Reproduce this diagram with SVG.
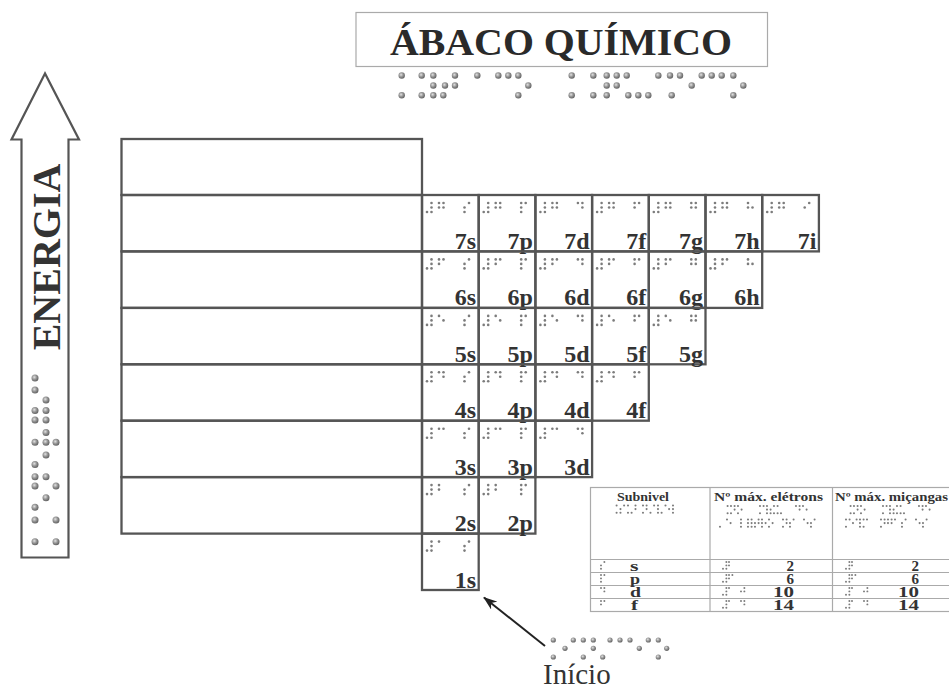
<svg xmlns="http://www.w3.org/2000/svg" xmlns:xlink="http://www.w3.org/1999/xlink" width="949" height="689" viewBox="0 0 949 689">
<style>
.ln{fill:none;stroke:#555;stroke-width:2.3}
.tb{fill:none;stroke:#aaa;stroke-width:1.2}
.lbl{font-family:"Liberation Serif",serif;font-weight:bold;font-size:24px;fill:#333;text-anchor:end}
.th{font-family:"Liberation Serif",serif;font-weight:bold;font-size:13px;fill:#333}
.tr{font-family:"Liberation Serif",serif;font-weight:bold;font-size:15px;fill:#333}
.sd{fill:#7c7c7c}
.bd{fill:url(#dot)}
</style>
<defs>
<radialGradient id="dot" cx="40%" cy="38%" r="65%">
<stop offset="0" stop-color="#e2e2e2"/>
<stop offset="0.5" stop-color="#959595"/>
<stop offset="1" stop-color="#5e5e5e"/>
</radialGradient>
<marker id="ah" markerUnits="userSpaceOnUse" markerWidth="14" markerHeight="10" viewBox="0 0 14 10" refX="13" refY="5" orient="auto">
<path d="M0,0 L14,5 L0,10 L4,5 z" fill="#222"/>
</marker>
<g id="bn"><circle class="sd" cx="0" cy="9" r="1.3"/><circle class="sd" cx="4.5" cy="0" r="1.3"/><circle class="sd" cx="4.5" cy="4.5" r="1.3"/><circle class="sd" cx="4.5" cy="9" r="1.3"/></g>
<g id="ba"><circle class="sd" cx="0" cy="0" r="1.3"/></g>
<g id="bb"><circle class="sd" cx="0" cy="0" r="1.3"/><circle class="sd" cx="0" cy="4.5" r="1.3"/></g>
<g id="bc"><circle class="sd" cx="0" cy="0" r="1.3"/><circle class="sd" cx="4.5" cy="0" r="1.3"/></g>
<g id="bd"><circle class="sd" cx="0" cy="0" r="1.3"/><circle class="sd" cx="4.5" cy="0" r="1.3"/><circle class="sd" cx="4.5" cy="4.5" r="1.3"/></g>
<g id="be"><circle class="sd" cx="0" cy="0" r="1.3"/><circle class="sd" cx="4.5" cy="4.5" r="1.3"/></g>
<g id="bf"><circle class="sd" cx="0" cy="0" r="1.3"/><circle class="sd" cx="0" cy="4.5" r="1.3"/><circle class="sd" cx="4.5" cy="0" r="1.3"/></g>
<g id="bg"><circle class="sd" cx="0" cy="0" r="1.3"/><circle class="sd" cx="0" cy="4.5" r="1.3"/><circle class="sd" cx="4.5" cy="0" r="1.3"/><circle class="sd" cx="4.5" cy="4.5" r="1.3"/></g>
<g id="bh"><circle class="sd" cx="0" cy="0" r="1.3"/><circle class="sd" cx="0" cy="4.5" r="1.3"/><circle class="sd" cx="4.5" cy="4.5" r="1.3"/></g>
<g id="bi"><circle class="sd" cx="0" cy="4.5" r="1.3"/><circle class="sd" cx="4.5" cy="0" r="1.3"/></g>
<g id="bj"><circle class="sd" cx="0" cy="4.5" r="1.3"/><circle class="sd" cx="4.5" cy="0" r="1.3"/><circle class="sd" cx="4.5" cy="4.5" r="1.3"/></g>
<g id="bs"><circle class="sd" cx="0" cy="4.5" r="1.3"/><circle class="sd" cx="0" cy="9" r="1.3"/><circle class="sd" cx="4.5" cy="0" r="1.3"/></g>
<g id="bp"><circle class="sd" cx="0" cy="0" r="1.3"/><circle class="sd" cx="0" cy="4.5" r="1.3"/><circle class="sd" cx="0" cy="9" r="1.3"/><circle class="sd" cx="4.5" cy="0" r="1.3"/></g>
<g id="bcap"><circle class="sd" cx="4.5" cy="0" r="1.3"/><circle class="sd" cx="4.5" cy="9" r="1.3"/></g>
<g id="bu"><circle class="sd" cx="0" cy="0" r="1.3"/><circle class="sd" cx="0" cy="9" r="1.3"/><circle class="sd" cx="4.5" cy="9" r="1.3"/></g>
<g id="bnn"><circle class="sd" cx="0" cy="0" r="1.3"/><circle class="sd" cx="0" cy="9" r="1.3"/><circle class="sd" cx="4.5" cy="0" r="1.3"/><circle class="sd" cx="4.5" cy="4.5" r="1.3"/></g>
<g id="bia"><circle class="sd" cx="0" cy="9" r="1.3"/><circle class="sd" cx="4.5" cy="0" r="1.3"/></g>
<g id="bv"><circle class="sd" cx="0" cy="0" r="1.3"/><circle class="sd" cx="0" cy="4.5" r="1.3"/><circle class="sd" cx="0" cy="9" r="1.3"/><circle class="sd" cx="4.5" cy="9" r="1.3"/></g>
<g id="bl"><circle class="sd" cx="0" cy="0" r="1.3"/><circle class="sd" cx="0" cy="4.5" r="1.3"/><circle class="sd" cx="0" cy="9" r="1.3"/></g>
<g id="bo"><circle class="sd" cx="0" cy="0" r="1.3"/><circle class="sd" cx="0" cy="9" r="1.3"/><circle class="sd" cx="4.5" cy="4.5" r="1.3"/></g>
<g id="bm"><circle class="sd" cx="0" cy="0" r="1.3"/><circle class="sd" cx="0" cy="9" r="1.3"/><circle class="sd" cx="4.5" cy="0" r="1.3"/></g>
<g id="baa"><circle class="sd" cx="0" cy="0" r="1.3"/><circle class="sd" cx="0" cy="4.5" r="1.3"/><circle class="sd" cx="0" cy="9" r="1.3"/><circle class="sd" cx="4.5" cy="4.5" r="1.3"/><circle class="sd" cx="4.5" cy="9" r="1.3"/></g>
<g id="bx"><circle class="sd" cx="0" cy="0" r="1.3"/><circle class="sd" cx="0" cy="9" r="1.3"/><circle class="sd" cx="4.5" cy="0" r="1.3"/><circle class="sd" cx="4.5" cy="9" r="1.3"/></g>
<g id="bpt"><circle class="sd" cx="0" cy="9" r="1.3"/></g>
<g id="bee"><circle class="sd" cx="0" cy="0" r="1.3"/><circle class="sd" cx="0" cy="4.5" r="1.3"/><circle class="sd" cx="0" cy="9" r="1.3"/><circle class="sd" cx="4.5" cy="0" r="1.3"/><circle class="sd" cx="4.5" cy="4.5" r="1.3"/><circle class="sd" cx="4.5" cy="9" r="1.3"/></g>
<g id="bt"><circle class="sd" cx="0" cy="4.5" r="1.3"/><circle class="sd" cx="0" cy="9" r="1.3"/><circle class="sd" cx="4.5" cy="0" r="1.3"/><circle class="sd" cx="4.5" cy="4.5" r="1.3"/></g>
<g id="br"><circle class="sd" cx="0" cy="0" r="1.3"/><circle class="sd" cx="0" cy="4.5" r="1.3"/><circle class="sd" cx="0" cy="9" r="1.3"/><circle class="sd" cx="4.5" cy="4.5" r="1.3"/></g>
<g id="bcc"><circle class="sd" cx="0" cy="0" r="1.3"/><circle class="sd" cx="0" cy="4.5" r="1.3"/><circle class="sd" cx="0" cy="9" r="1.3"/><circle class="sd" cx="4.5" cy="0" r="1.3"/><circle class="sd" cx="4.5" cy="9" r="1.3"/></g>
</defs>
<rect width="949" height="689" fill="#fff"/>

<g id="title">
<rect x="356" y="12.5" width="411.5" height="54" class="tb"/>
<text x="390" y="55" font-family="'Liberation Serif',serif" font-weight="bold" font-size="38" fill="#2a2a2a" textLength="342" lengthAdjust="spacingAndGlyphs">ÁBACO QUÍMICO</text>
<g id="title-braille">
<circle class="bd" cx="401.7" cy="75.5" r="3.2"/><circle class="bd" cx="421.7" cy="75.5" r="3.2"/><circle class="bd" cx="433.3" cy="75.5" r="3.2"/><circle class="bd" cx="455" cy="75.5" r="3.2"/><circle class="bd" cx="477.3" cy="75.5" r="3.2"/><circle class="bd" cx="498.3" cy="75.5" r="3.2"/><circle class="bd" cx="508.3" cy="75.5" r="3.2"/><circle class="bd" cx="518.3" cy="75.5" r="3.2"/><circle class="bd" cx="571.7" cy="75.5" r="3.2"/><circle class="bd" cx="593.3" cy="75.5" r="3.2"/><circle class="bd" cx="606.7" cy="75.5" r="3.2"/><circle class="bd" cx="616.7" cy="75.5" r="3.2"/><circle class="bd" cx="626.7" cy="75.5" r="3.2"/><circle class="bd" cx="658.3" cy="75.5" r="3.2"/><circle class="bd" cx="670" cy="75.5" r="3.2"/><circle class="bd" cx="680" cy="75.5" r="3.2"/><circle class="bd" cx="701.7" cy="75.5" r="3.2"/><circle class="bd" cx="711.7" cy="75.5" r="3.2"/><circle class="bd" cx="721.7" cy="75.5" r="3.2"/><circle class="bd" cx="733.3" cy="75.5" r="3.2"/>
<circle class="bd" cx="433.3" cy="85.5" r="3.2"/><circle class="bd" cx="445" cy="85.5" r="3.2"/><circle class="bd" cx="455" cy="85.5" r="3.2"/><circle class="bd" cx="528.3" cy="85.5" r="3.2"/><circle class="bd" cx="606.7" cy="85.5" r="3.2"/><circle class="bd" cx="616.7" cy="85.5" r="3.2"/><circle class="bd" cx="691.7" cy="85.5" r="3.2"/><circle class="bd" cx="743.3" cy="85.5" r="3.2"/>
<circle class="bd" cx="401.7" cy="95.3" r="3.2"/><circle class="bd" cx="421.7" cy="95.3" r="3.2"/><circle class="bd" cx="433.3" cy="95.3" r="3.2"/><circle class="bd" cx="443.3" cy="95.3" r="3.2"/><circle class="bd" cx="518.3" cy="95.3" r="3.2"/><circle class="bd" cx="571.7" cy="95.3" r="3.2"/><circle class="bd" cx="593.3" cy="95.3" r="3.2"/><circle class="bd" cx="606.7" cy="95.3" r="3.2"/><circle class="bd" cx="628.3" cy="95.3" r="3.2"/><circle class="bd" cx="638.3" cy="95.3" r="3.2"/><circle class="bd" cx="648.3" cy="95.3" r="3.2"/><circle class="bd" cx="671.7" cy="95.3" r="3.2"/><circle class="bd" cx="733.3" cy="95.3" r="3.2"/>
</g>
</g>

<g id="energia">
<path d="M45,73.5 L11.5,139.5 L21.5,139.5 L21.5,557.5 L68.5,557.5 L68.5,139.5 L79,139.5 Z" fill="none" stroke="#555" stroke-width="2.2"/>
<text transform="translate(60,257) rotate(-90)" text-anchor="middle" font-family="'Liberation Serif',serif" font-weight="bold" font-size="40" fill="#333">ENERGIA</text>
<g id="energia-braille">
<circle class="bd" cx="35" cy="378" r="3.5"/><circle class="bd" cx="35" cy="390" r="3.5"/><circle class="bd" cx="46" cy="400" r="3.5"/><circle class="bd" cx="35" cy="410.5" r="3.5"/><circle class="bd" cx="46" cy="410.5" r="3.5"/><circle class="bd" cx="35" cy="420" r="3.5"/><circle class="bd" cx="46" cy="420" r="3.5"/><circle class="bd" cx="46" cy="432.5" r="3.5"/><circle class="bd" cx="35" cy="442.3" r="3.5"/><circle class="bd" cx="46" cy="442.3" r="3.5"/><circle class="bd" cx="56" cy="442.3" r="3.5"/><circle class="bd" cx="46" cy="455" r="3.5"/><circle class="bd" cx="35" cy="464.5" r="3.5"/><circle class="bd" cx="35" cy="476.7" r="3.5"/><circle class="bd" cx="46" cy="476.7" r="3.5"/><circle class="bd" cx="35" cy="486" r="3.5"/><circle class="bd" cx="56" cy="486" r="3.5"/><circle class="bd" cx="46" cy="497.7" r="3.5"/><circle class="bd" cx="35" cy="507.3" r="3.5"/><circle class="bd" cx="35" cy="520" r="3.5"/><circle class="bd" cx="56" cy="520" r="3.5"/><circle class="bd" cx="35" cy="541.7" r="3.5"/><circle class="bd" cx="56" cy="541.7" r="3.5"/>
</g>
</g>

<g id="left-rows">
<rect x="121.5" y="139" width="300.5" height="56" class="ln"/>
<rect x="121.5" y="195" width="300.5" height="56.4" class="ln"/>
<rect x="121.5" y="251.4" width="300.5" height="56.5" class="ln"/>
<rect x="121.5" y="307.9" width="300.5" height="56.4" class="ln"/>
<rect x="121.5" y="364.3" width="300.5" height="56.4" class="ln"/>
<rect x="121.5" y="420.7" width="300.5" height="56.4" class="ln"/>
<rect x="121.5" y="477.1" width="300.5" height="56.5" class="ln"/>
</g>

<!-- row 7 -->
<g id="c7s"><rect x="422" y="195" width="56.7" height="56.4" class="ln"/><use href="#bn" x="427" y="203"/><use href="#bg" x="439" y="203"/><use href="#bs" x="464.5" y="203"/><text class="lbl" x="476.2" y="248.9">7s</text></g>
<g id="c7p"><rect x="478.7" y="195" width="56.7" height="56.4" class="ln"/><use href="#bn" x="483.7" y="203"/><use href="#bg" x="495.7" y="203"/><use href="#bp" x="521.2" y="203"/><text class="lbl" x="532.9" y="248.9">7p</text></g>
<g id="c7d"><rect x="535.4" y="195" width="56.7" height="56.4" class="ln"/><use href="#bn" x="540.4" y="203"/><use href="#bg" x="552.4" y="203"/><use href="#bd" x="577.9" y="203"/><text class="lbl" x="589.6" y="248.9">7d</text></g>
<g id="c7f"><rect x="592.1" y="195" width="56.7" height="56.4" class="ln"/><use href="#bn" x="597.1" y="203"/><use href="#bg" x="609.1" y="203"/><use href="#bf" x="634.6" y="203"/><text class="lbl" x="646.3" y="248.9">7f</text></g>
<g id="c7g"><rect x="648.8" y="195" width="56.7" height="56.4" class="ln"/><use href="#bn" x="653.8" y="203"/><use href="#bg" x="665.8" y="203"/><use href="#bg" x="691.3" y="203"/><text class="lbl" x="703" y="248.9">7g</text></g>
<g id="c7h"><rect x="705.5" y="195" width="56.7" height="56.4" class="ln"/><use href="#bn" x="710.5" y="203"/><use href="#bg" x="722.5" y="203"/><use href="#bh" x="748" y="203"/><text class="lbl" x="759.7" y="248.9">7h</text></g>
<g id="c7i"><rect x="762.2" y="195" width="56.7" height="56.4" class="ln"/><use href="#bn" x="767.2" y="203"/><use href="#bg" x="779.2" y="203"/><use href="#bi" x="804.7" y="203"/><text class="lbl" x="816.4" y="248.9">7i</text></g>
<!-- row 6 -->
<g id="c6s"><rect x="422" y="251.4" width="56.7" height="56.5" class="ln"/><use href="#bn" x="427" y="259.4"/><use href="#bf" x="439" y="259.4"/><use href="#bs" x="464.5" y="259.4"/><text class="lbl" x="476.2" y="305.3">6s</text></g>
<g id="c6p"><rect x="478.7" y="251.4" width="56.7" height="56.5" class="ln"/><use href="#bn" x="483.7" y="259.4"/><use href="#bf" x="495.7" y="259.4"/><use href="#bp" x="521.2" y="259.4"/><text class="lbl" x="532.9" y="305.3">6p</text></g>
<g id="c6d"><rect x="535.4" y="251.4" width="56.7" height="56.5" class="ln"/><use href="#bn" x="540.4" y="259.4"/><use href="#bf" x="552.4" y="259.4"/><use href="#bd" x="577.9" y="259.4"/><text class="lbl" x="589.6" y="305.3">6d</text></g>
<g id="c6f"><rect x="592.1" y="251.4" width="56.7" height="56.5" class="ln"/><use href="#bn" x="597.1" y="259.4"/><use href="#bf" x="609.1" y="259.4"/><use href="#bf" x="634.6" y="259.4"/><text class="lbl" x="646.3" y="305.3">6f</text></g>
<g id="c6g"><rect x="648.8" y="251.4" width="56.7" height="56.5" class="ln"/><use href="#bn" x="653.8" y="259.4"/><use href="#bf" x="665.8" y="259.4"/><use href="#bg" x="691.3" y="259.4"/><text class="lbl" x="703" y="305.3">6g</text></g>
<g id="c6h"><rect x="705.5" y="251.4" width="56.7" height="56.5" class="ln"/><use href="#bn" x="710.5" y="259.4"/><use href="#bf" x="722.5" y="259.4"/><use href="#bh" x="748" y="259.4"/><text class="lbl" x="759.7" y="305.3">6h</text></g>
<!-- row 5 -->
<g id="c5s"><rect x="422" y="307.9" width="56.7" height="56.4" class="ln"/><use href="#bn" x="427" y="315.9"/><use href="#be" x="439" y="315.9"/><use href="#bs" x="464.5" y="315.9"/><text class="lbl" x="476.2" y="361.8">5s</text></g>
<g id="c5p"><rect x="478.7" y="307.9" width="56.7" height="56.4" class="ln"/><use href="#bn" x="483.7" y="315.9"/><use href="#be" x="495.7" y="315.9"/><use href="#bp" x="521.2" y="315.9"/><text class="lbl" x="532.9" y="361.8">5p</text></g>
<g id="c5d"><rect x="535.4" y="307.9" width="56.7" height="56.4" class="ln"/><use href="#bn" x="540.4" y="315.9"/><use href="#be" x="552.4" y="315.9"/><use href="#bd" x="577.9" y="315.9"/><text class="lbl" x="589.6" y="361.8">5d</text></g>
<g id="c5f"><rect x="592.1" y="307.9" width="56.7" height="56.4" class="ln"/><use href="#bn" x="597.1" y="315.9"/><use href="#be" x="609.1" y="315.9"/><use href="#bf" x="634.6" y="315.9"/><text class="lbl" x="646.3" y="361.8">5f</text></g>
<g id="c5g"><rect x="648.8" y="307.9" width="56.7" height="56.4" class="ln"/><use href="#bn" x="653.8" y="315.9"/><use href="#be" x="665.8" y="315.9"/><use href="#bg" x="691.3" y="315.9"/><text class="lbl" x="703" y="361.8">5g</text></g>
<!-- row 4 -->
<g id="c4s"><rect x="422" y="364.3" width="56.7" height="56.4" class="ln"/><use href="#bn" x="427" y="372.3"/><use href="#bd" x="439" y="372.3"/><use href="#bs" x="464.5" y="372.3"/><text class="lbl" x="476.2" y="418.2">4s</text></g>
<g id="c4p"><rect x="478.7" y="364.3" width="56.7" height="56.4" class="ln"/><use href="#bn" x="483.7" y="372.3"/><use href="#bd" x="495.7" y="372.3"/><use href="#bp" x="521.2" y="372.3"/><text class="lbl" x="532.9" y="418.2">4p</text></g>
<g id="c4d"><rect x="535.4" y="364.3" width="56.7" height="56.4" class="ln"/><use href="#bn" x="540.4" y="372.3"/><use href="#bd" x="552.4" y="372.3"/><use href="#bd" x="577.9" y="372.3"/><text class="lbl" x="589.6" y="418.2">4d</text></g>
<g id="c4f"><rect x="592.1" y="364.3" width="56.7" height="56.4" class="ln"/><use href="#bn" x="597.1" y="372.3"/><use href="#bd" x="609.1" y="372.3"/><use href="#bf" x="634.6" y="372.3"/><text class="lbl" x="646.3" y="418.2">4f</text></g>
<!-- row 3 -->
<g id="c3s"><rect x="422" y="420.7" width="56.7" height="56.4" class="ln"/><use href="#bn" x="427" y="428.7"/><use href="#bc" x="439" y="428.7"/><use href="#bs" x="464.5" y="428.7"/><text class="lbl" x="476.2" y="474.6">3s</text></g>
<g id="c3p"><rect x="478.7" y="420.7" width="56.7" height="56.4" class="ln"/><use href="#bn" x="483.7" y="428.7"/><use href="#bc" x="495.7" y="428.7"/><use href="#bp" x="521.2" y="428.7"/><text class="lbl" x="532.9" y="474.6">3p</text></g>
<g id="c3d"><rect x="535.4" y="420.7" width="56.7" height="56.4" class="ln"/><use href="#bn" x="540.4" y="428.7"/><use href="#bc" x="552.4" y="428.7"/><use href="#bd" x="577.9" y="428.7"/><text class="lbl" x="589.6" y="474.6">3d</text></g>
<!-- row 2 -->
<g id="c2s"><rect x="422" y="477.1" width="56.7" height="56.5" class="ln"/><use href="#bn" x="427" y="485.1"/><use href="#bb" x="439" y="485.1"/><use href="#bs" x="464.5" y="485.1"/><text class="lbl" x="476.2" y="531">2s</text></g>
<g id="c2p"><rect x="478.7" y="477.1" width="56.7" height="56.5" class="ln"/><use href="#bn" x="483.7" y="485.1"/><use href="#bb" x="495.7" y="485.1"/><use href="#bp" x="521.2" y="485.1"/><text class="lbl" x="532.9" y="531">2p</text></g>
<!-- row 1 -->
<g id="c1s"><rect x="422" y="533.6" width="56.7" height="56.4" class="ln"/><use href="#bn" x="427" y="541.6"/><use href="#ba" x="439" y="541.6"/><use href="#bs" x="464.5" y="541.6"/><text class="lbl" x="476.2" y="587.5">1s</text></g>

<g id="table">
<rect x="590.5" y="487.5" width="370" height="124" class="tb"/>
<line x1="710" y1="487.5" x2="710" y2="611.5" class="tb"/>
<line x1="832.5" y1="487.5" x2="832.5" y2="611.5" class="tb"/>
<line x1="590.5" y1="559.5" x2="960" y2="559.5" class="tb"/>
<line x1="590.5" y1="572.5" x2="960" y2="572.5" class="tb"/>
<line x1="590.5" y1="585.5" x2="960" y2="585.5" class="tb"/>
<line x1="590.5" y1="598.5" x2="960" y2="598.5" class="tb"/>
<text class="th" x="617" y="500.5" textLength="52" lengthAdjust="spacingAndGlyphs">Subnivel</text>
<text class="th" x="714" y="500.5" textLength="109" lengthAdjust="spacingAndGlyphs">Nº máx. elétrons</text>
<text class="th" x="835" y="500.5" textLength="113" lengthAdjust="spacingAndGlyphs">Nº máx. miçangas</text>
<g id="table-head-braille">
<use href="#bcap" transform="translate(613,505.5) scale(0.8)"/><use href="#bs" transform="translate(620.5,505.5) scale(0.8)"/><use href="#bu" transform="translate(628,505.5) scale(0.8)"/><use href="#bb" transform="translate(635.5,505.5) scale(0.8)"/><use href="#bnn" transform="translate(643,505.5) scale(0.8)"/><use href="#bia" transform="translate(650.5,505.5) scale(0.8)"/><use href="#bv" transform="translate(658,505.5) scale(0.8)"/><use href="#be" transform="translate(665.5,505.5) scale(0.8)"/><use href="#bl" transform="translate(673,505.5) scale(0.8)"/>
<use href="#bcap" transform="translate(724,506) scale(0.8)"/><use href="#bnn" transform="translate(731,506) scale(0.8)"/><use href="#bo" transform="translate(738,506) scale(0.8)"/><use href="#bm" transform="translate(760,506) scale(0.8)"/><use href="#baa" transform="translate(767,506) scale(0.8)"/><use href="#bx" transform="translate(774,506) scale(0.8)"/><use href="#bpt" transform="translate(781,506) scale(0.8)"/><use href="#bd" transform="translate(796,506) scale(0.8)"/><use href="#be" transform="translate(803,506) scale(0.8)"/>
<use href="#bpt" transform="translate(720,519.5) scale(0.8)"/><use href="#be" transform="translate(727,519.5) scale(0.8)"/><use href="#bl" transform="translate(741,519.5) scale(0.8)"/><use href="#bee" transform="translate(748,519.5) scale(0.8)"/><use href="#bt" transform="translate(755,519.5) scale(0.8)"/><use href="#br" transform="translate(762,519.5) scale(0.8)"/><use href="#bo" transform="translate(769,519.5) scale(0.8)"/><use href="#bnn" transform="translate(783,519.5) scale(0.8)"/><use href="#bs" transform="translate(790,519.5) scale(0.8)"/><use href="#be" transform="translate(804,519.5) scale(0.8)"/><use href="#bs" transform="translate(811,519.5) scale(0.8)"/>
<use href="#bcap" transform="translate(847,506) scale(0.8)"/><use href="#bnn" transform="translate(854,506) scale(0.8)"/><use href="#bo" transform="translate(861,506) scale(0.8)"/><use href="#bm" transform="translate(883,506) scale(0.8)"/><use href="#baa" transform="translate(890,506) scale(0.8)"/><use href="#bx" transform="translate(897,506) scale(0.8)"/><use href="#bpt" transform="translate(904,506) scale(0.8)"/><use href="#bd" transform="translate(919,506) scale(0.8)"/><use href="#be" transform="translate(926,506) scale(0.8)"/>
<use href="#bm" transform="translate(846,519.5) scale(0.8)"/><use href="#bi" transform="translate(853,519.5) scale(0.8)"/><use href="#bcc" transform="translate(860,519.5) scale(0.8)"/><use href="#ba" transform="translate(867,519.5) scale(0.8)"/><use href="#bnn" transform="translate(881,519.5) scale(0.8)"/><use href="#bg" transform="translate(888,519.5) scale(0.8)"/><use href="#ba" transform="translate(895,519.5) scale(0.8)"/><use href="#bs" transform="translate(902,519.5) scale(0.8)"/><use href="#be" transform="translate(916,519.5) scale(0.8)"/><use href="#bs" transform="translate(923,519.5) scale(0.8)"/>
</g>
<g id="row-s"><use href="#bs" transform="translate(601,562) scale(0.75)"/><text class="tr" x="630" y="571" textLength="8.5" lengthAdjust="spacingAndGlyphs">s</text>
<use href="#bn" transform="translate(723,562) scale(0.75)"/><use href="#bb" transform="translate(729,562) scale(0.75)"/><text class="tr" x="794" y="571" text-anchor="end">2</text>
<use href="#bn" transform="translate(846,562) scale(0.75)"/><use href="#bb" transform="translate(852,562) scale(0.75)"/><text class="tr" x="919" y="571" text-anchor="end">2</text></g>
<g id="row-p"><use href="#bp" transform="translate(601,575) scale(0.75)"/><text class="tr" x="630" y="583.5" textLength="10" lengthAdjust="spacingAndGlyphs">p</text>
<use href="#bn" transform="translate(723,575) scale(0.75)"/><use href="#bf" transform="translate(729,575) scale(0.75)"/><text class="tr" x="794" y="584" text-anchor="end">6</text>
<use href="#bn" transform="translate(846,575) scale(0.75)"/><use href="#bf" transform="translate(852,575) scale(0.75)"/><text class="tr" x="919" y="584" text-anchor="end">6</text></g>
<g id="row-d"><use href="#bd" transform="translate(601,588) scale(0.75)"/><text class="tr" x="630" y="597" textLength="11" lengthAdjust="spacingAndGlyphs">d</text>
<use href="#bn" transform="translate(723,588) scale(0.75)"/><use href="#ba" transform="translate(729,588) scale(0.75)"/><use href="#bj" transform="translate(741,588) scale(0.75)"/><text class="tr" x="794" y="597" text-anchor="end" textLength="21" lengthAdjust="spacingAndGlyphs">10</text>
<use href="#bn" transform="translate(846,588) scale(0.75)"/><use href="#ba" transform="translate(852,588) scale(0.75)"/><use href="#bj" transform="translate(864,588) scale(0.75)"/><text class="tr" x="919" y="597" text-anchor="end" textLength="21" lengthAdjust="spacingAndGlyphs">10</text></g>
<g id="row-f"><use href="#bf" transform="translate(601,601) scale(0.75)"/><text class="tr" x="631" y="610" textLength="7" lengthAdjust="spacingAndGlyphs">f</text>
<use href="#bn" transform="translate(723,601) scale(0.75)"/><use href="#ba" transform="translate(729,601) scale(0.75)"/><use href="#bd" transform="translate(741,601) scale(0.75)"/><text class="tr" x="794" y="610" text-anchor="end" textLength="21" lengthAdjust="spacingAndGlyphs">14</text>
<use href="#bn" transform="translate(846,601) scale(0.75)"/><use href="#ba" transform="translate(852,601) scale(0.75)"/><use href="#bd" transform="translate(864,601) scale(0.75)"/><text class="tr" x="919" y="610" text-anchor="end" textLength="21" lengthAdjust="spacingAndGlyphs">14</text></g>
</g>

<g id="connectors">
<line x1="545" y1="646" x2="484" y2="597.5" stroke="#222" stroke-width="2" marker-end="url(#ah)"/>
</g>

<g id="inicio">
<circle class="bd" cx="553.3" cy="640" r="2.6"/><circle class="bd" cx="573.3" cy="640" r="2.6"/><circle class="bd" cx="583.3" cy="640" r="2.6"/><circle class="bd" cx="593.3" cy="640" r="2.6"/><circle class="bd" cx="610" cy="640" r="2.6"/><circle class="bd" cx="620" cy="640" r="2.6"/><circle class="bd" cx="630" cy="640" r="2.6"/><circle class="bd" cx="648.3" cy="640" r="2.6"/><circle class="bd" cx="658.3" cy="640" r="2.6"/>
<circle class="bd" cx="565" cy="648.3" r="2.6"/><circle class="bd" cx="593.3" cy="648.3" r="2.6"/><circle class="bd" cx="639.3" cy="648.3" r="2.6"/><circle class="bd" cx="666.7" cy="648.3" r="2.6"/>
<circle class="bd" cx="553.3" cy="657" r="2.6"/><circle class="bd" cx="583.3" cy="657" r="2.6"/><circle class="bd" cx="602.7" cy="657" r="2.6"/><circle class="bd" cx="658.3" cy="657" r="2.6"/>
<text x="543" y="684" font-family="'Liberation Serif',serif" font-size="29" fill="#333">Início</text>
</g>
</svg>
